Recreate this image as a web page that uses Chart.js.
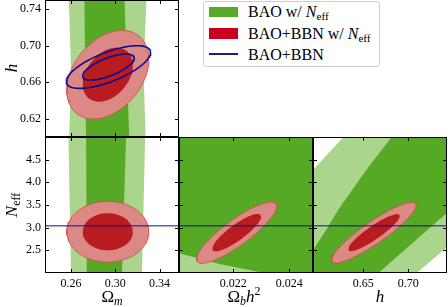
<!DOCTYPE html>
<html>
<head>
<meta charset="utf-8">
<script src="https://cdn.jsdelivr.net/npm/chart.js@4.4.1/dist/chart.umd.min.js"></script>
<style>
  body { margin: 0; width: 448px; height: 307px; position: relative; overflow: hidden; background: #fff; font-family: "Liberation Serif", serif; color: #000; }
  canvas { position: absolute; }
  .titulo { position: absolute; font-size: 17px; line-height: 17px; white-space: nowrap; transform: translate(-50%, -50%); }
  .titulo.rot { transform: translate(-50%, -50%) rotate(-90deg); }
  sub { font-size: 70%; vertical-align: -0.3em; line-height: 0; }
  sup { font-size: 70%; vertical-align: 0.55em; line-height: 0; }
  #legenda { position: absolute; left: 203px; top: 1px; width: 175px; height: 64px; border: 1px solid #cfcfcf; border-radius: 3px; background: #fff; }
  .item { position: absolute; left: 248px; font-size: 16px; line-height: 16px; white-space: nowrap; }
  .amostra { position: absolute; left: 209px; width: 29px; }
</style>
</head>
<body>
<canvas id="painelTL" width="179" height="137" style="left:0;top:0"></canvas>
<canvas id="painelBL" width="179" height="170" style="left:0;top:137px"></canvas>
<canvas id="painelBM" width="134" height="170" style="left:179px;top:137px"></canvas>
<canvas id="painelBR" width="134" height="170" style="left:313px;top:137px"></canvas>

<div class="titulo rot" style="left:11px;top:68px"><i>h</i></div>
<div class="titulo rot" style="left:11px;top:205px"><i>N</i><sub>eff</sub></div>
<div class="titulo" style="left:112px;top:296px">Ω<sub><i>m</i></sub></div>
<div class="titulo" style="left:244px;top:296px">Ω<sub><i>b</i></sub><i>h</i><sup>2</sup></div>
<div class="titulo" style="left:380px;top:296px"><i>h</i></div>

<div id="legenda"></div>
<div class="amostra" style="top:7px;height:10px;background:#55aa28"></div>
<div class="amostra" style="top:28px;height:11px;background:#c8001e"></div>
<div class="amostra" style="top:53px;height:1.5px;background:#1a1a9a"></div>
<div class="item" style="top:4px">BAO w/ <i>N</i><sub>eff</sub></div>
<div class="item" style="top:25.5px">BAO+BBN w/ <i>N</i><sub>eff</sub></div>
<div class="item" style="top:46.5px">BAO+BBN</div>

<script>
// Ticks e rótulos
const omegaMTicks = [0.26, 0.30, 0.34];
const omegaMLabels = ['0.26', '0.30', '0.34'];
const hTicks = [0.62, 0.66, 0.70, 0.74];
const hLabels = ['0.62', '0.66', '0.70', '0.74'];
const neffTicks = [2.5, 3.0, 3.5, 4.0, 4.5];
const neffLabels = ['2.5', '3.0', '3.5', '4.0', '4.5'];
const obh2Ticks = [0.022, 0.024];
const obh2Labels = ['0.022', '0.024'];
const hBaixoTicks = [0.65, 0.70];
const hBaixoLabels = ['0.65', '0.70'];

// Limites dos eixos
const omegaMRange = [0.2365, 0.3575];
const hRange = [0.60, 0.75];
const neffRange = [2.0, 5.0];
const obh2Range = [0.02006, 0.02485];
const hBaixoRange = [0.594, 0.743];

// Contornos gaussianos: [media x, media y, sigma x, sigma y, correlacao]
const bbnNeffOmH = [0.2932, 0.6682, 0.0149, 0.0195, 0.35];
const bbnNeffOmN = [0.2932, 2.91, 0.0149, 0.27, 0.0];
const bbnNeffObN = [0.02212, 2.89, 0.000575, 0.272, 0.86];
const bbnNeffHN = [0.6617, 2.89, 0.0189, 0.269, 0.90];
const bbnOmH = [0.2938, 0.6766, 0.0153, 0.0094, 0.68];
const bbnNeff = 3.04;
const niveis = [1.517, 2.486]; // 68% e 95%

// BAO w/ Neff: regioes 95% (clara) e 68% (escura), vertices [x, y]
const baoOmH95 = [[0.2577, 0.76], [0.2600, 0.675], [0.2582, 0.59], [0.3276, 0.59], [0.3254, 0.675], [0.3285, 0.76]];
const baoOmH68 = [[0.2720, 0.76], [0.2736, 0.59], [0.3128, 0.59], [0.3080, 0.76]];
const baoOmN95 = [[0.2576, 5.1], [0.2600, 1.9], [0.3240, 1.9], [0.3270, 5.1]];
const baoOmN68 = [[0.2736, 5.1], [0.2742, 1.9], [0.3059, 1.9], [0.3098, 5.1]];
const baoObN95 = [[0.0199, 2.462], [0.02007, 2.434], [0.0215, 2.199], [0.02317, 1.993], [0.02325, 1.9], [0.0199, 1.9]];
const baoObN68 = [[0.0199, 1.9], [0.0250, 1.9], [0.0250, 5.1], [0.0199, 5.1]];
const baoHN95 = [[0.59, 4.183], [0.6324, 5.1], [0.75, 5.1], [0.75, 2.688], [0.7034, 1.9], [0.59, 1.9]];
const baoHN68 = [[0.6855, 5.1], [0.75, 5.1], [0.75, 3.45], [0.6610, 1.9], [0.59, 1.9], [0.59, 2.378], [0.5942, 2.507],
                 [0.6086, 2.948], [0.6219, 3.39], [0.6374, 3.831], [0.6574, 4.382], [0.6816, 5.0]];

const verdeClaro = '#abd58c';
const verdeEscuro = '#55a925';
const vermelhoClaro = '#dc8884';
const vermelhoEscuro = '#b81c1f';
const azul = '#0e0e8e';

function elipse(par, k) {
    const [mx, my, sx, sy, r] = par;
    const pts = [];
    for (let i = 0; i <= 120; i++) {
        const t = 2 * Math.PI * i / 120;
        const u = Math.cos(t), v = Math.sin(t);
        pts.push([mx + k * sx * u, my + k * sy * (r * u + Math.sqrt(1 - r * r) * v)]);
    }
    return pts;
}

function regiao(pontos, cor, borda) {
    return {
        data: pontos.map(p => ({ x: p[0], y: p[1] })),
        fill: 'shape',
        backgroundColor: cor,
        borderColor: borda ? borda : 'rgba(0,0,0,0)',
        borderWidth: borda ? 1 : 0,
        pointRadius: 0,
        tension: 0
    };
}

function linha(pontos, cor, largura) {
    return {
        data: pontos.map(p => ({ x: p[0], y: p[1] })),
        fill: false,
        borderColor: cor,
        borderWidth: largura,
        pointRadius: 0,
        tension: 0
    };
}

// Contornos vermelhos (BAO+BBN w/ Neff)
function vermelho(par) {
    return [
        regiao(elipse(par, niveis[1]), vermelhoClaro, 'rgba(205,80,78,0.9)'),
        regiao(elipse(par, niveis[0]), vermelhoEscuro)
    ];
}

function escala(pos, range, ticks, labels, tamanho, mostrar) {
    return {
        type: 'linear',
        position: pos,
        min: range[0],
        max: range[1],
        bounds: 'data',
        grid: { display: false, drawTicks: false },
        border: { display: false },
        afterBuildTicks: s => { s.ticks = ticks.map(v => ({ value: v })); },
        ticks: {
            display: mostrar,
            autoSkip: false,
            maxRotation: 0,
            padding: 4,
            color: '#000',
            font: { family: 'Liberation Serif', size: 12 },
            callback: (v, i) => labels[i]
        },
        afterFit: s => {
            if (pos === 'left') { s.width = tamanho; s.paddingTop = 0; s.paddingBottom = 0; }
            else { s.height = tamanho; s.paddingLeft = 0; s.paddingRight = 0; }
        }
    };
}

// Moldura com ticks para dentro nos quatro lados
const moldura = {
    id: 'moldura',
    afterDatasetsDraw(chart) {
        const { ctx, chartArea: a, scales } = chart;
        ctx.save();
        ctx.strokeStyle = '#000';
        ctx.lineWidth = 1;
        ctx.beginPath();
        scales.x.ticks.forEach(t => {
            const px = Math.round(scales.x.getPixelForValue(t.value)) + 0.5;
            ctx.moveTo(px, a.bottom); ctx.lineTo(px, a.bottom - 4);
            ctx.moveTo(px, a.top); ctx.lineTo(px, a.top + 4);
        });
        scales.y.ticks.forEach(t => {
            const py = Math.round(scales.y.getPixelForValue(t.value)) + 0.5;
            ctx.moveTo(a.left, py); ctx.lineTo(a.left + 4, py);
            ctx.moveTo(a.right, py); ctx.lineTo(a.right - 4, py);
        });
        ctx.stroke();
        ctx.strokeRect(a.left + 0.5, a.top + 0.5, a.right - a.left - 1, a.bottom - a.top - 1);
        ctx.restore();
    }
};

function criarPainel(id, eixoX, eixoY, conjuntos) {
    // o primeiro conjunto fica por baixo
    return new Chart(id, {
        type: 'line',
        data: { datasets: conjuntos.slice().reverse() },
        options: {
            responsive: false,
            animation: false,
            events: [],
            layout: { padding: 0 },
            scales: { x: eixoX, y: eixoY },
            plugins: { legend: { display: false }, tooltip: { enabled: false } }
        },
        plugins: [moldura]
    });
}

criarPainel('painelTL',
    escala('bottom', omegaMRange, omegaMTicks, omegaMLabels, 0, false),
    escala('left', hRange, hTicks, hLabels, 45, true),
    [regiao(baoOmH95, verdeClaro), regiao(baoOmH68, verdeEscuro)]
        .concat(vermelho(bbnNeffOmH))
        .concat([linha(elipse(bbnOmH, niveis[1]), azul, 1.6), linha(elipse(bbnOmH, niveis[0]), azul, 1.6)]));

criarPainel('painelBL',
    escala('bottom', omegaMRange, omegaMTicks, omegaMLabels, 34, true),
    escala('left', neffRange, neffTicks, neffLabels, 45, true),
    [regiao(baoOmN95, verdeClaro), regiao(baoOmN68, verdeEscuro)]
        .concat(vermelho(bbnNeffOmN))
        .concat([linha([[omegaMRange[0], bbnNeff], [omegaMRange[1], bbnNeff]], azul, 1)]));

criarPainel('painelBM',
    escala('bottom', obh2Range, obh2Ticks, obh2Labels, 34, true),
    escala('left', neffRange, neffTicks, neffLabels, 0, false),
    [regiao(baoObN68, verdeEscuro), regiao(baoObN95, verdeClaro)]
        .concat(vermelho(bbnNeffObN))
        .concat([linha([[obh2Range[0], bbnNeff], [obh2Range[1], bbnNeff]], azul, 1)]));

criarPainel('painelBR',
    escala('bottom', hBaixoRange, hBaixoTicks, hBaixoLabels, 34, true),
    escala('left', neffRange, neffTicks, neffLabels, 0, false),
    [regiao(baoHN95, verdeClaro), regiao(baoHN68, verdeEscuro)]
        .concat(vermelho(bbnNeffHN))
        .concat([linha([[hBaixoRange[0], bbnNeff], [hBaixoRange[1], bbnNeff]], azul, 1)]));
</script>
</body>
</html>
